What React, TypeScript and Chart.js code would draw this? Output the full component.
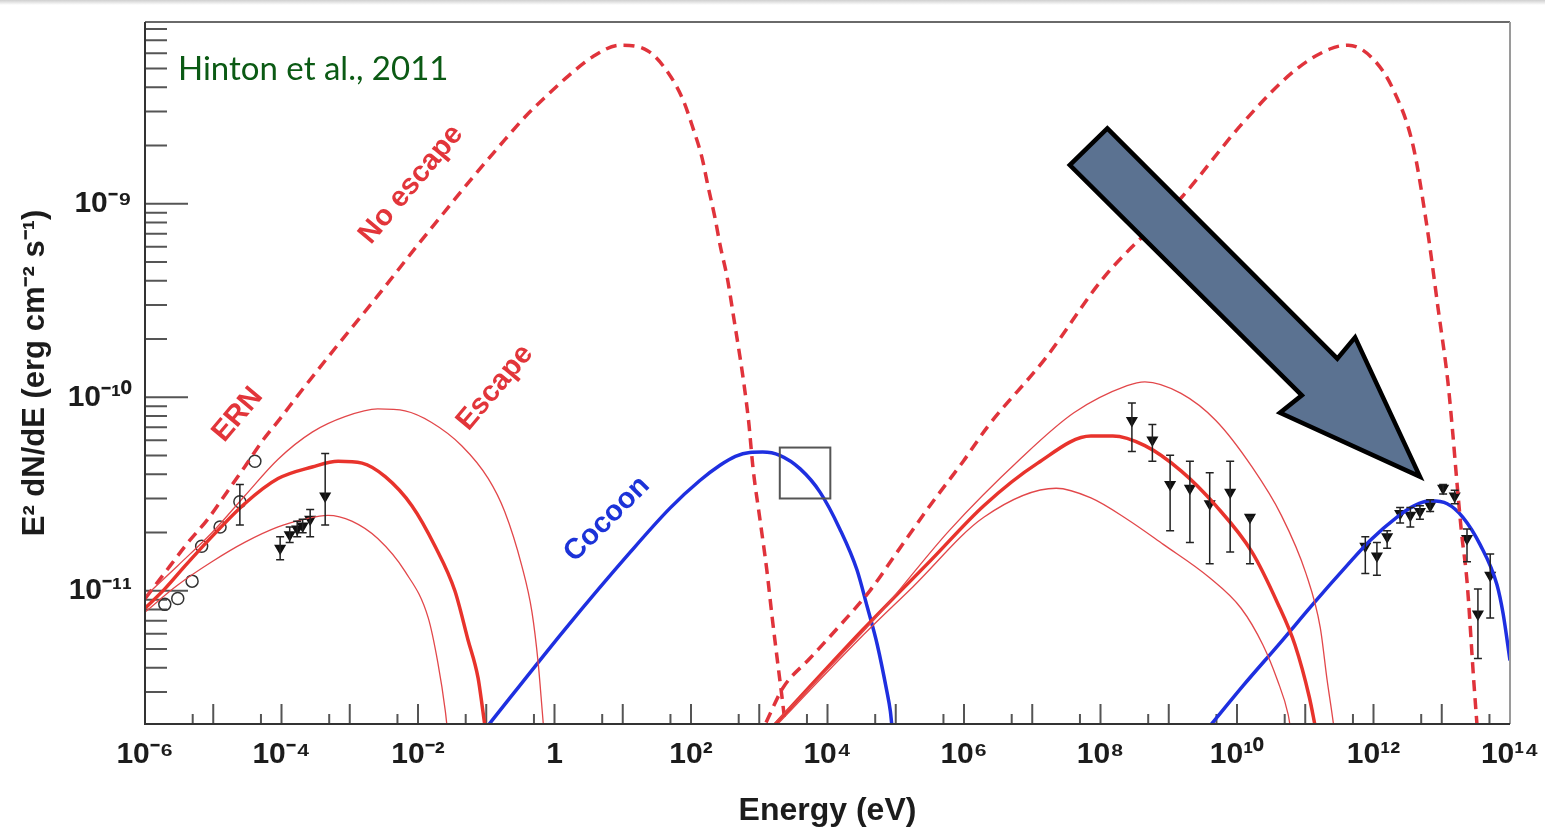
import React, { useEffect, useRef } from 'react';
import { Chart, registerables } from 'chart.js';
Chart.register(...registerables);

// ---- values (log10 of energy in eV, log10 of E^2 dN/dE) ----
const synNoEscLogE = [-6, -5.63, -5.37, -5.08, -4.8, -4.54, -4.29, -4.02, -3.76, -3.2, -2.6, -2.02, -1.63, -1.19, -0.73, -0.43, -0.11, 0.2, 0.56, 0.96, 1.37, 1.66, 1.88, 2.03, 2.16, 2.25, 2.35, 2.43, 2.53, 2.6, 2.84, 2.91, 3.01, 3.11, 3.19, 3.28, 3.33, 3.4];
const synNoEscLogF = [-11.04, -10.87, -10.75, -10.63, -10.49, -10.36, -10.23, -10.11, -9.99, -9.74, -9.48, -9.22, -9.05, -8.86, -8.67, -8.55, -8.44, -8.34, -8.24, -8.18, -8.21, -8.32, -8.46, -8.61, -8.76, -8.91, -9.07, -9.22, -9.38, -9.53, -10.11, -10.37, -10.63, -10.89, -11.14, -11.4, -11.54, -11.75];

const icNoEscLogE = [3.1, 3.35, 3.74, 4.18, 4.62, 5.02, 5.5, 5.99, 6.35, 7.19, 8.05, 9.18, 10.09, 10.85, 11.36, 11.63, 11.99, 12.29, 12.58, 12.78, 12.95, 13.09, 13.16, 13.22, 13.29, 13.37, 13.47, 13.55];
const icNoEscLogF = [-11.68, -11.5, -11.35, -11.18, -11.0, -10.8, -10.56, -10.33, -10.15, -9.8, -9.38, -8.97, -8.58, -8.31, -8.2, -8.18, -8.25, -8.41, -8.7, -9.11, -9.55, -9.92, -10.18, -10.43, -10.7, -10.95, -11.47, -11.85];

const synEscLogE = [-6, -5.71, -5.41, -5.02, -4.54, -4.05, -3.55, -3.17, -2.82, -2.48, -2.09, -1.75, -1.46, -1.27, -1.12, -1.05, -1.0];
const synEscLogF = [-11.09, -10.99, -10.87, -10.72, -10.55, -10.42, -10.36, -10.33, -10.34, -10.41, -10.56, -10.77, -11.0, -11.25, -11.45, -11.62, -11.75];
const synEscHiLogE = [-6, -5.52, -5.02, -4.54, -4.05, -3.55, -3.07, -2.59, -2.19, -1.8, -1.36, -0.97, -0.73, -0.48, -0.33, -0.24, -0.18, -0.15];
const synEscHiLogF = [-11.03, -10.87, -10.7, -10.51, -10.32, -10.18, -10.1, -10.06, -10.07, -10.13, -10.25, -10.42, -10.59, -10.87, -11.11, -11.37, -11.62, -11.75];
const synEscLoLogE = [-6, -5.52, -5.02, -4.54, -4.05, -3.66, -3.32, -2.97, -2.59, -2.19, -1.85, -1.71, -1.6, -1.56];
const synEscLoLogF = [-11.11, -10.97, -10.85, -10.75, -10.67, -10.63, -10.61, -10.64, -10.73, -10.9, -11.14, -11.37, -11.62, -11.75];

const icEscLogE = [3.05, 4.52, 5.52, 6.29, 7.08, 7.86, 8.18, 8.65, 9.18, 9.69, 10.22, 10.59, 10.85, 11.06, 11.14, 11.2];
const icEscLogF = [-11.76, -11.2, -10.84, -10.56, -10.34, -10.2, -10.2, -10.25, -10.38, -10.56, -10.8, -11.06, -11.28, -11.55, -11.69, -11.8];
const icEscHiLogE = [3.05, 4.73, 5.78, 6.82, 7.61, 8.39, 8.65, 9.18, 9.69, 10.22, 10.65, 11.01, 11.22, 11.32, 11.41, 11.45];
const icEscHiLogF = [-11.75, -11.13, -10.69, -10.32, -10.08, -9.94, -9.92, -9.98, -10.12, -10.36, -10.61, -10.91, -11.19, -11.46, -11.68, -11.8];
const icEscLoLogE = [3.05, 4.52, 5.25, 6.29, 7.35, 7.86, 8.39, 8.92, 9.59, 10.06, 10.38, 10.59, 10.75, 10.8];
const icEscLoLogF = [-11.77, -11.23, -10.98, -10.62, -10.47, -10.52, -10.63, -10.76, -10.93, -11.09, -11.28, -11.46, -11.64, -11.75];

const cocoonLowLogE = [-1.05, 0.15, 1.11, 1.7, 2.13, 2.43, 2.65, 2.86, 3.05, 3.3, 3.6, 3.89, 4.18, 4.43, 4.58, 4.73, 4.87, 4.92, 4.95];
const cocoonLowLogF = [-11.73, -11.2, -10.8, -10.57, -10.43, -10.35, -10.305, -10.285, -10.283, -10.3, -10.37, -10.49, -10.68, -10.89, -11.08, -11.28, -11.52, -11.62, -11.72];
const cocoonHighLogE = [9.6, 10.09, 10.63, 11.11, 11.61, 11.95, 12.34, 12.6, 12.83, 13.08, 13.31, 13.56, 13.81, 13.9, 14.0];
const cocoonHighLogF = [-11.7, -11.49, -11.27, -11.07, -10.87, -10.74, -10.62, -10.56, -10.535, -10.55, -10.62, -10.76, -10.97, -11.12, -11.36];

const radioLogE = [-5.71, -5.52, -5.31, -5.17, -4.9, -4.61, -4.39];
const radioLogF = [-11.07, -11.04, -10.95, -10.77, -10.67, -10.54, -10.33];
const radioLo = [null, null, null, null, null, -10.66, null];
const radioHi = [null, null, null, null, null, -10.45, null];

const optLogE = [-4.02, -3.88, -3.77, -3.69, -3.58, -3.36];
const optLogF = [-10.78, -10.71, -10.68, -10.665, -10.63, -10.51];
const optLo = [-10.84, -10.75, -10.72, -10.7, -10.72, -10.66];
const optHi = [-10.72, -10.67, -10.64, -10.63, -10.58, -10.29];

const fermiLogE = [8.46, 8.76, 9.02, 9.31, 9.6, 9.9, 10.19];
const fermiLogF = [-10.12, -10.22, -10.45, -10.47, -10.55, -10.49, -10.62];
const fermiLo = [-10.28, -10.33, -10.69, -10.75, -10.86, -10.8, -10.86];
const fermiHi = [-10.03, -10.14, -10.3, -10.33, -10.39, -10.33, -10.62];

const hessLogE = [11.88, 12.05, 12.2, 12.39, 12.54, 12.68, 12.83, 13.02, 13.19, 13.37, 13.53, 13.71];
const hessLogF = [-10.77, -10.82, -10.72, -10.6, -10.61, -10.59, -10.56, -10.47, -10.51, -10.73, -11.12, -10.92];
const hessLo = [-10.91, -10.92, -10.78, -10.65, -10.67, -10.63, -10.59, -10.5, -10.55, -10.85, -11.35, -11.14];
const hessHi = [-10.72, -10.75, -10.69, -10.57, -10.57, -10.56, -10.53, -10.45, -10.48, -10.68, -10.99, -10.81];

// axis ticks (exponents)
const xLabelExps = [-6, -4, -2, 0, 2, 4, 6, 8, 10, 12, 14];
const yLabelExps = [-11, -10, -9];
const xMin = 1e-6, xMax = 1e14, yMin = 2.05e-12, yMax = 8.7e-9;

// annotations (data coordinates, log10)
const arrowLogE = [8.1, 11.47, 11.73, 12.68, 10.63, 10.95, 7.55];
const arrowLogF = [-8.61, -9.8, -9.69, -10.41, -10.08, -9.99, -8.8];
const boxE = [2e3, 1.1e4];
const boxF = [3e-11, 5.5e-11];
const curveLabels = [
  { text: 'No escape', logE: -2.1, logF: -8.9, angle: -50, color: '#e2353a' },
  { text: 'ERN', logE: -4.64, logF: -10.09, angle: -50, color: '#e2353a' },
  { text: 'Escape', logE: -0.87, logF: -9.95, angle: -50, color: '#e2353a' },
  { text: 'Cocoon', logE: 0.77, logF: -10.63, angle: -45, color: '#1c33d8' },
];
const creditText = 'Hinton et al., 2011';

const FONT = "'Liberation Sans', Arial, Helvetica, sans-serif";
const RED = '#e8332c';
const RED_DASH = '#e0333b';
const RED_THIN = '#e2474a';
const BLUE = '#1e2fe0';

const SUP: Record<string, string> = { '-': '\u207B', '0': '\u2070', '1': '\u00B9', '2': '\u00B2', '3': '\u00B3', '4': '\u2074', '5': '\u2075', '6': '\u2076', '7': '\u2077', '8': '\u2078', '9': '\u2079' };
const powLabel = (v: number) => {
  const e = Math.round(Math.log10(v));
  if (e === 0) return '1';
  return '10' + String(e).split('').map((c) => SUP[c]).join('');
};

const pts = (le: number[], lf: number[]) => le.map((e, i) => ({ x: Math.pow(10, e), y: Math.pow(10, lf[i]) }));

const lineDs = (label: string, le: number[], lf: number[], color: string, width: number, dash: number[] = []) => ({
  label,
  data: pts(le, lf),
  showLine: true,
  borderColor: color,
  borderWidth: width,
  borderDash: dash,
  borderCapStyle: 'butt',
  pointRadius: 0,
  pointHoverRadius: 0,
  cubicInterpolationMode: 'monotone',
  clip: 0,
});

const markerDs = (label: string, le: number[], lf: number[], lo: any[], hi: any[], style: string) => ({
  label,
  data: pts(le, lf),
  showLine: false,
  pointStyle: style,
  rotation: style === 'triangle' ? 180 : 0,
  pointRadius: style === 'triangle' ? 5.5 : 6,
  pointHoverRadius: 0,
  backgroundColor: style === 'triangle' ? '#111' : 'rgba(255,255,255,0)',
  borderColor: style === 'triangle' ? '#111' : '#333',
  borderWidth: 1.5,
  errLo: lo,
  errHi: hi,
  clip: 0,
});

const zeroPad = (s: any) => {
  s.paddingTop = 0; s.paddingBottom = 0; s.paddingLeft = 0; s.paddingRight = 0;
};

const decorPlugin = {
  id: 'decor',
  beforeDraw(chart: any) {
    const { ctx, width, height } = chart;
    ctx.save();
    ctx.fillStyle = '#ffffff';
    ctx.fillRect(0, 0, width, height);
    const g = ctx.createLinearGradient(0, 0, 0, 5);
    g.addColorStop(0, '#cfcfcf');
    g.addColorStop(1, '#ffffff');
    ctx.fillStyle = g;
    ctx.fillRect(0, 0, width, 5);
    ctx.restore();
  },
  beforeDatasetsDraw(chart: any) {
    const { ctx, chartArea: a, scales } = chart;
    const xs = scales.x, ys = scales.y;
    ctx.save();
    ctx.strokeStyle = '#555';
    ctx.lineWidth = 2;
    ctx.beginPath();
    for (let n = -6; n <= 14; n++) {
      const p = xs.getPixelForValue(Math.pow(10, n));
      ctx.moveTo(p, a.bottom);
      ctx.lineTo(p, a.bottom - 20);
      if (n < 14) {
        const q = xs.getPixelForValue(5 * Math.pow(10, n));
        ctx.moveTo(q, a.bottom);
        ctx.lineTo(q, a.bottom - 10);
      }
    }
    for (let n = -12; n <= -9; n++) {
      for (let k = 1; k <= 9; k++) {
        const v = k * Math.pow(10, n);
        if (v < yMin || v > yMax) continue;
        const p = ys.getPixelForValue(v);
        ctx.moveTo(a.left, p);
        ctx.lineTo(a.left + (k === 1 ? 43 : 22), p);
      }
    }
    ctx.stroke();
    ctx.restore();
  },
  afterDatasetsDraw(chart: any) {
    const { ctx, chartArea: a, scales } = chart;
    const xs = scales.x, ys = scales.y;
    const px = (le: number) => xs.getPixelForValue(Math.pow(10, le));
    const py = (lf: number) => ys.getPixelForValue(Math.pow(10, lf));
    ctx.save();
    // error bars
    ctx.strokeStyle = '#222';
    ctx.lineWidth = 1.5;
    chart.data.datasets.forEach((ds: any) => {
      if (!ds.errLo) return;
      ds.data.forEach((d: any, i: number) => {
        const lo = ds.errLo[i], hi = ds.errHi[i];
        if (lo == null || hi == null) return;
        const x = xs.getPixelForValue(d.x);
        const y1 = py(lo), y2 = py(hi);
        ctx.beginPath();
        ctx.moveTo(x, y1); ctx.lineTo(x, y2);
        ctx.moveTo(x - 4, y1); ctx.lineTo(x + 4, y1);
        ctx.moveTo(x - 4, y2); ctx.lineTo(x + 4, y2);
        ctx.stroke();
      });
    });
    // small box
    ctx.strokeStyle = '#555';
    ctx.lineWidth = 2;
    const bx1 = xs.getPixelForValue(boxE[0]), bx2 = xs.getPixelForValue(boxE[1]);
    const by1 = ys.getPixelForValue(boxF[1]), by2 = ys.getPixelForValue(boxF[0]);
    ctx.strokeRect(bx1, by1, bx2 - bx1, by2 - by1);
    // curve labels
    ctx.font = `bold 29px ${FONT}`;
    ctx.textAlign = 'center';
    ctx.textBaseline = 'middle';
    curveLabels.forEach((l) => {
      ctx.save();
      ctx.translate(px(l.logE), py(l.logF));
      ctx.rotate((l.angle * Math.PI) / 180);
      ctx.fillStyle = l.color;
      ctx.fillText(l.text, 0, 0);
      ctx.restore();
    });
    // credit
    ctx.font = `33px Lato, 'Open Sans', sans-serif`;
    ctx.textAlign = 'left';
    ctx.textBaseline = 'alphabetic';
    ctx.fillStyle = '#0b5a14';
    ctx.fillText(creditText, a.left + 33, a.top + 58);
    // frame
    ctx.lineWidth = 2;
    ctx.strokeStyle = '#6a6a6a';
    ctx.beginPath(); ctx.moveTo(a.left, a.top); ctx.lineTo(a.right, a.top); ctx.stroke();
    ctx.strokeStyle = '#9a9a9a';
    ctx.beginPath(); ctx.moveTo(a.right, a.top); ctx.lineTo(a.right, a.bottom); ctx.stroke();
    ctx.strokeStyle = '#333';
    ctx.beginPath(); ctx.moveTo(a.left, a.top); ctx.lineTo(a.left, a.bottom); ctx.lineTo(a.right, a.bottom); ctx.stroke();
    // arrow
    ctx.beginPath();
    arrowLogE.forEach((e, i) => {
      const x = px(e), y = py(arrowLogF[i]);
      if (i === 0) ctx.moveTo(x, y); else ctx.lineTo(x, y);
    });
    ctx.closePath();
    ctx.fillStyle = '#5b7291';
    ctx.fill();
    ctx.lineJoin = 'miter';
    ctx.lineWidth = 4.5;
    ctx.strokeStyle = '#000';
    ctx.stroke();
    ctx.restore();
  },
};

export default function App() {
  const ref = useRef<HTMLCanvasElement | null>(null);
  useEffect(() => {
    if (!ref.current) return;
    const datasets: any[] = [
      lineDs('Escape (upper) synchrotron', synEscHiLogE, synEscHiLogF, RED_THIN, 1.3),
      lineDs('Escape (lower) synchrotron', synEscLoLogE, synEscLoLogF, RED_THIN, 1.3),
      lineDs('Escape synchrotron', synEscLogE, synEscLogF, RED, 3.5),
      lineDs('Escape (upper) IC', icEscHiLogE, icEscHiLogF, RED_THIN, 1.3),
      lineDs('Escape (lower) IC', icEscLoLogE, icEscLoLogF, RED_THIN, 1.3),
      lineDs('Escape IC', icEscLogE, icEscLogF, RED, 3.5),
      lineDs('No escape synchrotron', synNoEscLogE, synNoEscLogF, RED_DASH, 3.5, [11, 7]),
      lineDs('No escape IC', icNoEscLogE, icNoEscLogF, RED_DASH, 3.5, [11, 7]),
      lineDs('Cocoon low', cocoonLowLogE, cocoonLowLogF, BLUE, 3.5),
      lineDs('Cocoon high', cocoonHighLogE, cocoonHighLogF, BLUE, 3.5),
      markerDs('Radio', radioLogE, radioLogF, radioLo, radioHi, 'circle'),
      markerDs('Optical/X-ray', optLogE, optLogF, optLo, optHi, 'triangle'),
      markerDs('Fermi', fermiLogE, fermiLogF, fermiLo, fermiHi, 'triangle'),
      markerDs('HESS', hessLogE, hessLogF, hessLo, hessHi, 'triangle'),
    ];
    const chart = new Chart(ref.current, {
      type: 'scatter',
      data: { datasets },
      options: {
        animation: false,
        responsive: false,
        maintainAspectRatio: false,
        devicePixelRatio: 1,
        layout: { padding: { top: 22, right: 35, left: 0, bottom: 0 } },
        plugins: { legend: { display: false }, tooltip: { enabled: false } },
        scales: {
          x: {
            type: 'logarithmic',
            min: xMin,
            max: xMax,
            grid: { display: false, drawTicks: false },
            border: { display: false },
            afterBuildTicks: (s: any) => { s.ticks = xLabelExps.map((e) => ({ value: Math.pow(10, e) })); },
            afterFit: (s: any) => { s.height = 106; zeroPad(s); },
            ticks: {
              autoSkip: false, maxRotation: 0, minRotation: 0, padding: 13, color: '#1c1c1c',
              font: { family: FONT, size: 30, weight: 'bold' },
              callback: (v: any) => powLabel(Number(v)),
            },
            title: {
              display: true, text: 'Energy (eV)', color: '#1c1c1c',
              font: { family: FONT, size: 32, weight: 'bold' }, padding: { top: 13, bottom: 0 },
            },
          },
          y: {
            type: 'logarithmic',
            min: yMin,
            max: yMax,
            grid: { display: false, drawTicks: false },
            border: { display: false },
            afterBuildTicks: (s: any) => { s.ticks = yLabelExps.map((e) => ({ value: Math.pow(10, e) })); },
            afterFit: (s: any) => { s.width = 145; zeroPad(s); },
            ticks: {
              autoSkip: false, padding: 13, color: '#1c1c1c',
              font: { family: FONT, size: 30, weight: 'bold' },
              callback: (v: any) => powLabel(Number(v)),
            },
            title: {
              display: true, text: 'E\u00B2 dN/dE (erg cm\u207B\u00B2 s\u207B\u00B9)', color: '#1c1c1c',
              font: { family: FONT, size: 31, weight: 'bold' }, padding: { top: 17, bottom: 0 },
            },
          },
        },
      } as any,
      plugins: [decorPlugin as any],
    });
    return () => chart.destroy();
  }, []);
  return (
    <div style={{ position: 'fixed', left: 0, top: 0, width: 1545, height: 830, background: '#fff' }}>
      <canvas ref={ref} width={1545} height={830} style={{ display: 'block', width: 1545, height: 830 }} />
    </div>
  );
}
